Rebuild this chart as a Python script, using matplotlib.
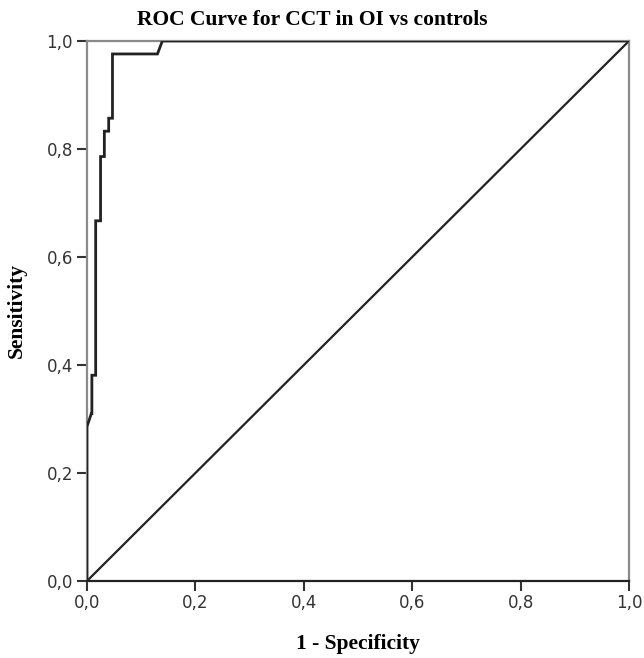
import matplotlib
matplotlib.use('Agg')
import matplotlib.pyplot as plt
from matplotlib.ticker import FuncFormatter

# ROC curve (1 - specificity, sensitivity)
fpr = [0.0, 0.0, 0.008, 0.009, 0.009, 0.016, 0.016, 0.025, 0.025, 0.032, 0.032,
       0.040, 0.040, 0.047, 0.047, 0.130, 0.139, 1.0]
tpr = [0.0, 0.286, 0.31, 0.31, 0.381, 0.381, 0.667, 0.667, 0.786, 0.786, 0.833,
       0.833, 0.857, 0.857, 0.976, 0.976, 1.0, 1.0]

ref_x = [0.0, 1.0]
ref_y = [0.0, 1.0]

ticks = [0.0, 0.2, 0.4, 0.6, 0.8, 1.0]


def comma_fmt(v, pos):
    return '{:.1f}'.format(v).replace('.', ',')


fig = plt.figure(figsize=(6.44, 6.58), dpi=100)
ax = fig.add_axes([87/644, 77/658, 542/644, 540/658])

ax.plot(fpr, tpr, color='#222222', linewidth=2.0, solid_joinstyle='miter', zorder=3)
ax.plot(ref_x, ref_y, color='#222222', linewidth=1.6, zorder=2)

ax.set_xlim(0, 1)
ax.set_ylim(0, 1)
ax.set_xticks(ticks)
ax.set_yticks(ticks)
ax.xaxis.set_major_formatter(FuncFormatter(comma_fmt))
ax.yaxis.set_major_formatter(FuncFormatter(comma_fmt))
ax.tick_params(direction='out', length=7, width=1.5, color='#333333',
               labelsize=12, labelcolor='#333333', pad=2)
ax.tick_params(axis='y', pad=3)

for side in ['left', 'top', 'right']:
    ax.spines[side].set_color('#8a8a8a')
    ax.spines[side].set_linewidth(1.6)
ax.spines['bottom'].set_color('#222222')
ax.spines['bottom'].set_linewidth(1.6)

serif = ['Liberation Serif', 'DejaVu Serif']
fig.text(312/644, 1 - 20/658, 'ROC Curve for CCT in OI vs controls',
         ha='center', va='center', fontsize=15.5, fontweight='bold', family=serif)
ax.set_xlabel('1 - Specificity', fontsize=15.5, fontweight='bold', family=serif, labelpad=16)
ax.set_ylabel('Sensitivity', fontsize=15.5, fontweight='bold', family=serif, labelpad=14)

fig.savefig('out.png', dpi=100)
